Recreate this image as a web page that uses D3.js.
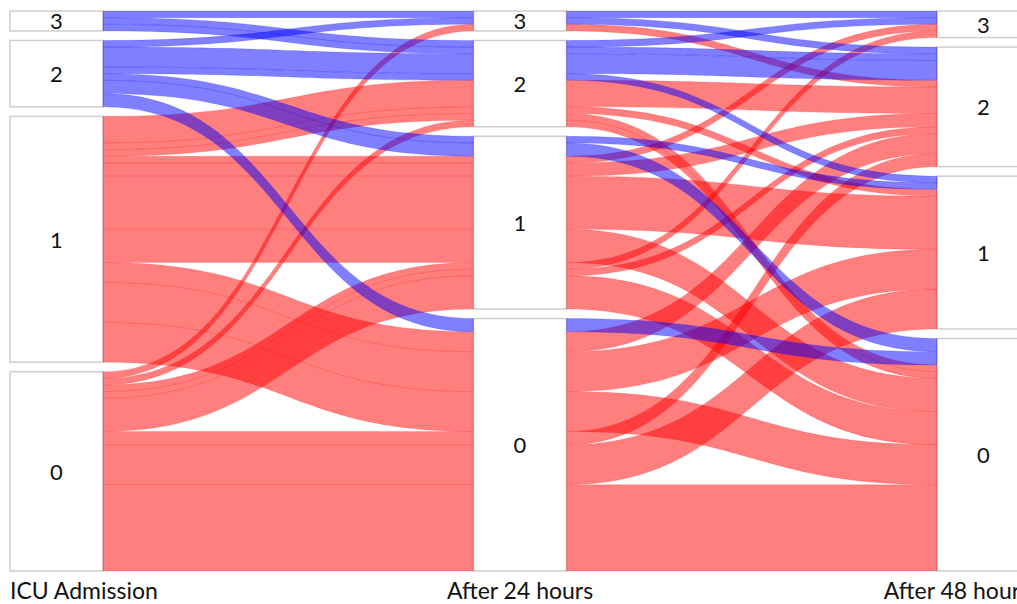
<!DOCTYPE html>
<html>
<head>
<meta charset="utf-8">
<script src="https://cdn.jsdelivr.net/npm/d3@7"></script>
<style>
  body { margin: 0; background: #fff; overflow: hidden; }
  text { font-family: Lato, "Open Sans", sans-serif; fill: #111; }
</style>
</head>
<body>
<svg id="chart" width="1017" height="604"></svg>
<script>
var stages = ["ICU Admission", "After 24 hours", "After 48 hours"];
var levels = [3, 2, 1, 0];

// one entry per patient path: score at admission, after 24 h, after 48 h, number of patients
var admission = [3, 3, 3, 2, 2, 2, 2, 2, 2, 1, 1, 1, 0, 0, 1, 1, 1, 1, 0, 0, 0, 1, 1, 1, 0, 0, 0];
var after24   = [3, 2, 2, 3, 2, 2, 1, 1, 0, 2, 2, 2, 3, 2, 1, 1, 1, 1, 1, 1, 1, 0, 0, 0, 0, 0, 0];
var after48   = [3, 3, 2, 2, 2, 1, 1, 0, 0, 2, 1, 0, 2, 0, 3, 2, 1, 0, 3, 2, 0, 2, 1, 0, 2, 1, 0];
var patients  = [1, 1, 1, 1, 3, 1, 1, 2, 2, 4, 1, 1, 1, 1, 1, 2, 8, 5, 1, 1, 5, 3, 6, 6, 2, 6, 13];

(function () {
  var svg = d3.select("#chart");

  var yTop = 11, yBottom = 571, gap = 9.5, boxW = 93;
  var total = d3.sum(patients);

  var x = d3.scalePoint().domain(stages).range([10, 937]);
  var y = d3.scaleLinear().domain([0, total]).range([yTop, yBottom - gap * (levels.length - 1)]);

  var groups = admission.map(function (a, i) {
    return { path: [a, after24[i], after48[i]], n: patients[i], blue: a >= 2, y0: [], y1: [] };
  });

  // order of the lodes inside a box: colour first, then the neighbouring columns
  var sortKeys = [[1, 2], [0, 2], [1, 0]];

  var boxes = [];
  stages.forEach(function (s, k) {
    var start = 0;
    levels.forEach(function (lv, li) {
      var members = groups.filter(function (g) { return g.path[k] === lv; });
      members.sort(function (p, q) {
        return (q.blue - p.blue) ||
          (q.path[sortKeys[k][0]] - p.path[sortKeys[k][0]]) ||
          (q.path[sortKeys[k][1]] - p.path[sortKeys[k][1]]);
      });
      var n = d3.sum(members, function (g) { return g.n; });
      var off = gap * li;
      boxes.push({ k: k, lv: lv, y0: y(start) + off, y1: y(start + n) + off });
      var cur = start;
      members.forEach(function (g) {
        g.y0[k] = y(cur) + off;
        cur += g.n;
        g.y1[k] = y(cur) + off;
      });
      start += n;
    });
  });

  // boxes
  var gBox = svg.append("g");
  gBox.selectAll("rect")
    .data(boxes)
    .enter()
    .append("rect")
    .attr("x", function (d) { return x(stages[d.k]); })
    .attr("y", function (d) { return d.y0; })
    .attr("width", boxW)
    .attr("height", function (d) { return d.y1 - d.y0; })
    .style("fill", "#fff")
    .style("stroke", "#cdcdcd")
    .style("stroke-width", "1.5px");

  gBox.selectAll("text")
    .data(boxes)
    .enter()
    .append("text")
    .attr("x", function (d) { return x(stages[d.k]) + boxW / 2; })
    .attr("y", function (d) { return (d.y0 + d.y1) / 2; })
    .attr("text-anchor", "middle")
    .attr("dominant-baseline", "central")
    .style("font-size", "22px")
    .text(function (d) { return d.lv; });

  // ribbons
  function ribbon(g, k) {
    var x0 = x(stages[k]) + boxW, x1 = x(stages[k + 1]), xm = (x0 + x1) / 2;
    var a0 = g.y0[k], a1 = g.y1[k], b0 = g.y0[k + 1], b1 = g.y1[k + 1];
    return "M" + x0 + "," + a0 +
      "C" + xm + "," + a0 + " " + xm + "," + b0 + " " + x1 + "," + b0 +
      "L" + x1 + "," + b1 +
      "C" + xm + "," + b1 + " " + xm + "," + a1 + " " + x0 + "," + a1 + "Z";
  }

  // red first so the blue ribbons sit on top (purple overlaps)
  var links = [];
  [false, true].forEach(function (isBlue) {
    [0, 1].forEach(function (k) {
      groups.forEach(function (g) {
        if (g.blue === isBlue) links.push({ g: g, k: k });
      });
    });
  });

  svg.append("g")
    .selectAll("path")
    .data(links)
    .enter()
    .append("path")
    .attr("d", function (d) { return ribbon(d.g, d.k); })
    .style("fill", function (d) { return d.g.blue ? "#0000ff" : "#ff0000"; })
    .style("fill-opacity", 0.5)
    .style("stroke", function (d) { return d.g.blue ? "#0000ff" : "#ff0000"; })
    .style("stroke-opacity", 0.25)
    .style("stroke-width", "0.6px");

  // column titles
  svg.append("g")
    .selectAll("text")
    .data(stages)
    .enter()
    .append("text")
    .attr("x", function (d, i) { return i === 0 ? x(d) : i === 1 ? x(d) + boxW / 2 : x(d) + boxW; })
    .attr("y", 599)
    .attr("text-anchor", function (d, i) { return i === 0 ? "start" : i === 1 ? "middle" : "end"; })
    .style("font-size", "23px")
    .text(function (d) { return d; });
})();
</script>
</body>
</html>
